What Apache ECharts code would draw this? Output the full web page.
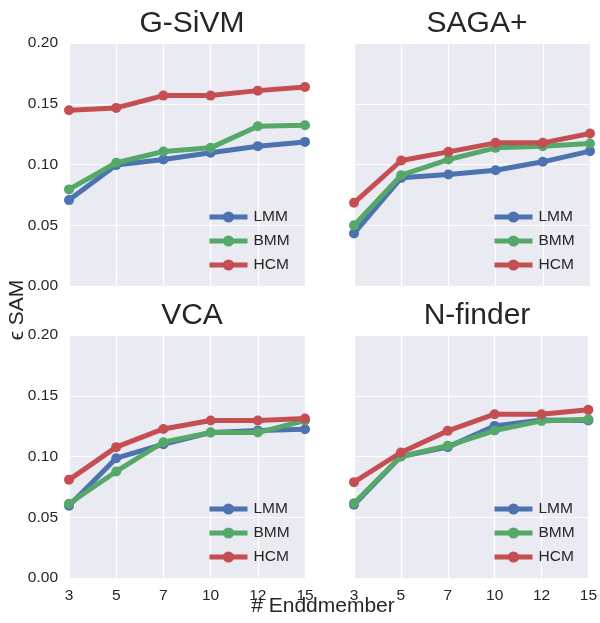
<!DOCTYPE html>
<html><head><meta charset="utf-8">
<script src="https://cdn.jsdelivr.net/npm/echarts@6/dist/echarts.min.js"></script>
<style>html,body{margin:0;padding:0;background:#fff}#c{width:600px;height:623px}</style>
</head><body><div id="c"></div>
<script>
const categories = ['3','5','7','10','12','15'];
const yTicks = [0, 0.05, 0.10, 0.15, 0.20];
const panelTitles = ['G-SiVM','SAGA+','VCA','N-finder'];
const seriesNames = ['LMM','BMM','HCM'];

const gsivmLMM = [0.0707,0.0995,0.1041,0.1096,0.1151,0.1186];
const gsivmBMM = [0.0795,0.1014,0.1107,0.1137,0.1315,0.1323];
const gsivmHCM = [0.1447,0.1466,0.1567,0.1567,0.1608,0.1638];

const sagaLMM = [0.0433,0.0890,0.0918,0.0953,0.1022,0.1110];
const sagaBMM = [0.0499,0.0912,0.1041,0.1137,0.1151,0.1173];
const sagaHCM = [0.0685,0.1033,0.1104,0.1178,0.1178,0.1255];

const vcaLMM = [0.0595,0.0986,0.1101,0.1197,0.1214,0.1225];
const vcaBMM = [0.0611,0.0877,0.1118,0.1197,0.1197,0.1296];
const vcaHCM = [0.0808,0.1077,0.1227,0.1296,0.1296,0.1312];

const nfLMM = [0.0603,0.1000,0.1077,0.1252,0.1301,0.1296];
const nfBMM = [0.0616,0.1000,0.1088,0.1214,0.1293,0.1307];
const nfHCM = [0.0789,0.1033,0.1211,0.1348,0.1348,0.1384];

const panelData = [
  [gsivmLMM, gsivmBMM, gsivmHCM],
  [sagaLMM, sagaBMM, sagaHCM],
  [vcaLMM, vcaBMM, vcaHCM],
  [nfLMM, nfBMM, nfHCM]
];
const colors = ['#4C72B0','#55A868','#C44E52'];
const FONT = '"Liberation Sans", Arial, sans-serif';

const lefts = [69, 354, 69, 354];
const tops = [43, 43, 335, 335];
const W = 236, H = 243;

const grids = [], xAxes = [], yAxes = [], series = [], titles = [], legends = [];
for (let p = 0; p < 4; p++) {
  grids.push({left: lefts[p], top: tops[p], width: W, height: H,
    show: true, backgroundColor: '#EAEAF2', borderWidth: 0});
  const bottomRow = p >= 2, leftCol = p % 2 === 0;
  xAxes.push({type: 'category', gridIndex: p, data: categories, boundaryGap: false,
    axisLine: {show: false}, axisTick: {show: false},
    axisLabel: {show: bottomRow, color: '#262626', fontSize: 15.5, fontFamily: FONT, margin: 10},
    splitLine: {show: true, lineStyle: {color: '#ffffff', width: 1.2}}});
  yAxes.push({type: 'value', gridIndex: p, min: 0, max: 0.2, interval: 0.05,
    axisLine: {show: false}, axisTick: {show: false},
    axisLabel: {show: leftCol, color: '#262626', fontSize: 15.5, fontFamily: FONT, margin: 11,
      formatter: v => v.toFixed(2)},
    splitLine: {show: true, lineStyle: {color: '#ffffff', width: 1.2}}});
  for (let s = 0; s < 3; s++) {
    series.push({type: 'line', name: seriesNames[s], xAxisIndex: p, yAxisIndex: p,
      data: panelData[p][s], color: colors[s], symbol: 'circle', symbolSize: 10,
      lineStyle: {width: 5, color: colors[s]}, itemStyle: {color: colors[s]},
      clip: true, animation: false, z: 2 + s});
  }
  titles.push({text: panelTitles[p], left: lefts[p] + W / 2, top: tops[p] - 39, textAlign: 'center',
    textStyle: {fontSize: 30, fontWeight: 'normal', color: '#262626', fontFamily: FONT}});
  legends.push({data: seriesNames, orient: 'vertical',
    left: lefts[p] + 138, top: tops[p] + 166, padding: 0,
    itemWidth: 38, itemHeight: 14, itemGap: 8, selectedMode: false,
    lineStyle: {width: 5}, itemStyle: {},
    textStyle: {fontSize: 15.5, color: '#262626', fontFamily: FONT, padding: [0, 0, 0, 1]}});
}

const chart = echarts.init(document.getElementById('c'), null, {renderer: 'canvas'});
chart.setOption({
  animation: false,
  title: titles,
  legend: legends,
  grid: grids,
  xAxis: xAxes,
  yAxis: yAxes,
  series: series,
  graphic: [
    {type: 'text', x: 17, y: 310, rotation: Math.PI / 2,
      style: {text: 'ϵ SAM', font: '21px ' + FONT, fill: '#262626', textAlign: 'center', textVerticalAlign: 'middle'}},
    {type: 'text', x: 323, y: 606,
      style: {text: '# Enddmember', font: '21px ' + FONT, fill: '#262626', textAlign: 'center', textVerticalAlign: 'middle'}}
  ]
});
</script></body></html>
